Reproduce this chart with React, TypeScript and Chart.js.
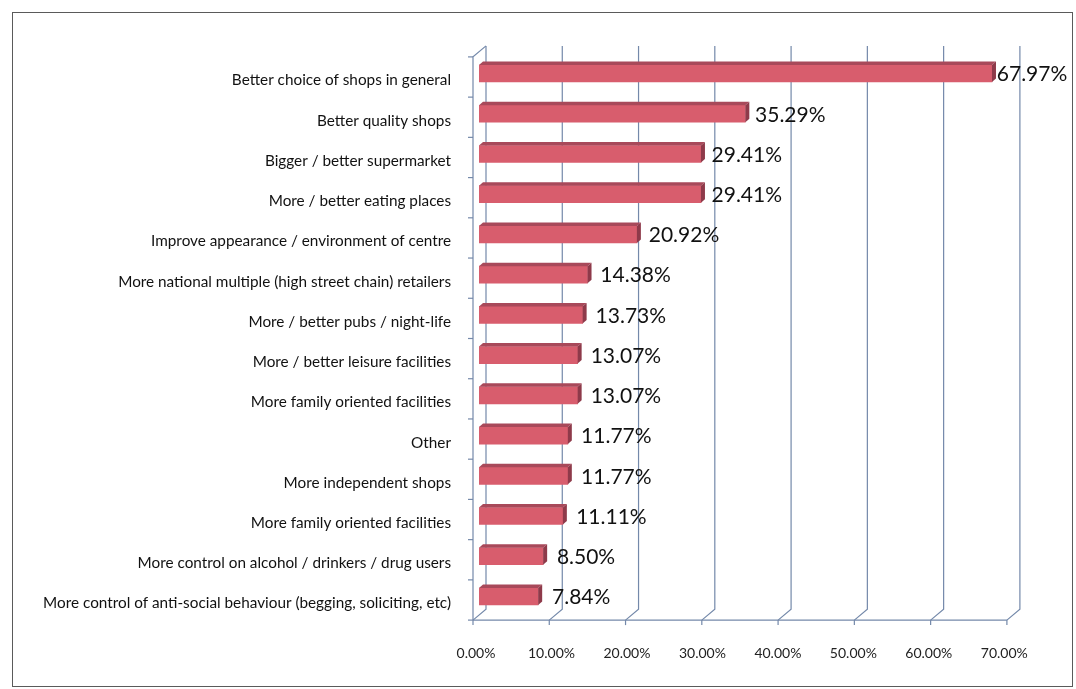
import React, { useEffect, useRef } from "react";
import { Chart, registerables } from "chart.js";

Chart.register(...registerables);

const categories = [
  "Better choice of shops in general",
  "Better quality shops",
  "Bigger / better supermarket",
  "More / better eating places",
  "Improve appearance / environment of centre",
  "More national multiple (high street chain) retailers",
  "More / better pubs / night-life",
  "More / better leisure facilities",
  "More family oriented facilities",
  "Other",
  "More independent shops",
  "More family oriented facilities",
  "More control on alcohol / drinkers / drug users",
  "More control of anti-social behaviour (begging, soliciting, etc)",
];

const values = [67.97, 35.29, 29.41, 29.41, 20.92, 14.38, 13.73, 13.07, 13.07, 11.77, 11.77, 11.11, 8.5, 7.84];

const tickValues = [0, 10, 20, 30, 40, 50, 60, 70];

const FONT = "Lato, 'Open Sans', sans-serif";
const GRID = "#7489aa";
const FRONT_DX = -6; // front plane offset
const BACK_DX = 7; // back plane offset
const PERSP = 0.08; // slight perspective spread of the walls
const FRONT_DY = 3.5;
const BACK_DY = -7.5;

const gridPlugin = {
  id: "grid3d",
  beforeDatasetsDraw(chart: any) {
    const { ctx, chartArea, scales } = chart;
    const xs = scales.x;
    const ys = scales.y;
    const topBack = chartArea.top - 7.5;
    const floorFront = chartArea.bottom + FRONT_DY;
    const floorBack = chartArea.bottom + BACK_DY;
    const front = (v: number) => xs.getPixelForValue(v) + FRONT_DX + PERSP * v;
    const back = (v: number) => xs.getPixelForValue(v) + BACK_DX + PERSP * v;
    ctx.save();
    ctx.strokeStyle = GRID;
    ctx.lineWidth = 1.2;
    tickValues.forEach((v) => {
      ctx.beginPath();
      ctx.moveTo(back(v), topBack);
      ctx.lineTo(back(v), floorBack);
      ctx.lineTo(front(v), floorFront);
      ctx.stroke();
      ctx.beginPath();
      ctx.moveTo(front(v), floorFront);
      ctx.lineTo(front(v), floorFront + 5);
      ctx.stroke();
    });
    ctx.beginPath();
    ctx.moveTo(front(0), floorFront);
    ctx.lineTo(front(70), floorFront);
    ctx.stroke();
    const frontTop = topBack + (FRONT_DY - BACK_DY);
    ctx.beginPath();
    ctx.moveTo(front(0), floorFront);
    ctx.lineTo(front(0), frontTop);
    ctx.lineTo(back(0), topBack);
    ctx.stroke();
    const n = categories.length;
    const step = (ys.bottom - ys.top) / n;
    for (let i = 0; i <= n; i++) {
      const yy = ys.top + i * step + FRONT_DY;
      ctx.beginPath();
      ctx.moveTo(front(0) - 5, yy);
      ctx.lineTo(front(0), yy);
      ctx.stroke();
    }
    ctx.restore();
  },
};

const bar3dPlugin = {
  id: "bar3d",
  afterDatasetsDraw(chart: any) {
    const { ctx } = chart;
    const meta = chart.getDatasetMeta(0);
    const dx = 4;
    const dy = 3.5;
    ctx.save();
    meta.data.forEach((el: any, i: number) => {
      const { x, y, base, height } = el.getProps(["x", "y", "base", "height"], true);
      const top = y - height / 2;
      const bottom = y + height / 2;
      ctx.fillStyle = "#a8495a";
      ctx.beginPath();
      ctx.moveTo(base, top);
      ctx.lineTo(x, top);
      ctx.lineTo(x + dx, top - dy);
      ctx.lineTo(base + dx, top - dy);
      ctx.closePath();
      ctx.fill();
      ctx.fillStyle = "#8e3a4a";
      ctx.beginPath();
      ctx.moveTo(x, top);
      ctx.lineTo(x + dx, top - dy);
      ctx.lineTo(x + dx, bottom - dy);
      ctx.lineTo(x, bottom);
      ctx.closePath();
      ctx.fill();
      ctx.fillStyle = "#111";
      ctx.font = `21px ${FONT}`;
      ctx.textAlign = "left";
      ctx.textBaseline = "middle";
      ctx.fillText(values[i].toFixed(2) + "%", x + 15 - 0.15 * values[i], y + 1);
    });
    ctx.restore();
  },
};

export default function App() {
  const ref = useRef<HTMLCanvasElement | null>(null);
  useEffect(() => {
    if (!ref.current) return;
    const chart = new Chart(ref.current, {
      type: "bar",
      data: {
        labels: categories,
        datasets: [
          {
            data: values,
            backgroundColor: "#d85d6d",
            borderWidth: 0,
            barThickness: 17,
          },
        ],
      },
      options: {
        indexAxis: "y",
        animation: false,
        responsive: false,
        events: [],
        layout: { padding: { left: 0, right: 68.7, top: 53.4, bottom: 0 } },
        plugins: { legend: { display: false }, tooltip: { enabled: false } },
        scales: {
          x: {
            min: 0,
            max: 70,
            grid: { display: false, drawTicks: false },
            border: { display: false },
            afterFit: (s: any) => {
              s.height = 72.4;
            },
            afterBuildTicks: (s: any) => {
              s.ticks = tickValues.map((v) => ({ value: v }));
            },
            ticks: {
              padding: 28,
              labelOffset: -3,
              color: "#222",
              font: { family: FONT, size: 14 },
              callback: (v: any) => Number(v).toFixed(2) + "%",
            },
          },
          y: {
            grid: { display: false, drawTicks: false },
            border: { display: false },
            afterFit: (s: any) => {
              s.width = 479;
            },
            ticks: {
              padding: 28,
              labelOffset: 7,
              color: "#111",
              font: { family: FONT, size: 15.3 },
            },
          },
        },
      },
      plugins: [gridPlugin, bar3dPlugin],
    });
    return () => chart.destroy();
  }, []);
  return (
    <div style={{ position: "fixed", left: 0, top: 0, width: 1076, height: 689, background: "#fff" }}>
      <div
        style={{
          position: "absolute",
          left: 12,
          top: 12,
          width: 1061,
          height: 675,
          border: "1px solid #5a5a5a",
          boxSizing: "border-box",
        }}
      />
      <canvas ref={ref} width={1076} height={689} style={{ position: "absolute", left: 0, top: 0 }} />
    </div>
  );
}
